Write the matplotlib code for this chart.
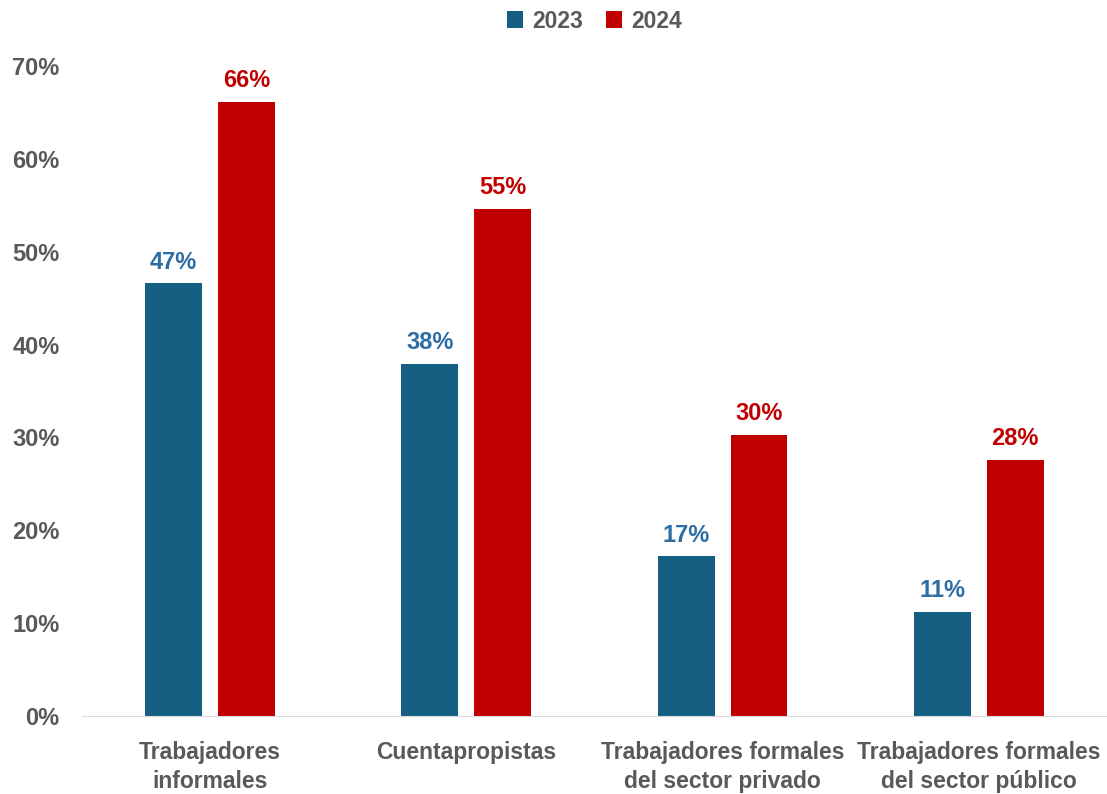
import matplotlib.pyplot as plt
import numpy as np

# Datos
categorias = ['Trabajadores\ninformales', 'Cuentapropistas',
              'Trabajadores formales\ndel sector privado', 'Trabajadores formales\ndel sector público']
valores_2023 = [46.6, 37.9, 17.2, 11.2]
valores_2024 = [66.1, 54.6, 30.3, 27.6]
etiquetas_2023 = ['47%', '38%', '17%', '11%']
etiquetas_2024 = ['66%', '55%', '30%', '28%']

azul = '#156082'
rojo = '#C00000'
gris = '#595959'

plt.rcParams['font.family'] = ['Liberation Sans', 'DejaVu Sans']
plt.rcParams['font.weight'] = 'bold'

fig = plt.figure(figsize=(11.07, 7.94), dpi=100)
ax = fig.add_axes([0.074, 0.098, 0.926, 0.819])

x = np.arange(len(categorias))
ancho = 0.222
desp = 0.142
b1 = ax.bar(x - desp, valores_2023, ancho, color=azul, label='2023')
b2 = ax.bar(x + desp, valores_2024, ancho, color=rojo, label='2024')

# Etiquetas de datos
for barras, etiquetas, color in [(b1, etiquetas_2023, '#2E6DA4'), (b2, etiquetas_2024, rojo)]:
    for b, t in zip(barras, etiquetas):
        ax.annotate(t, (b.get_x() + b.get_width() / 2, b.get_height()),
                    xytext=(0, 7), textcoords='offset points',
                    ha='center', va='bottom', color=color, fontsize=17, fontweight='bold')

ax.set_xlim(-0.5, len(categorias) - 0.5)
ax.set_ylim(0, 70)
ax.set_yticks(range(0, 71, 10))
ax.set_yticklabels([f'{v}%' for v in range(0, 71, 10)])
ax.set_xticks(x)
ax.set_xticklabels(categorias, linespacing=1.3)
ax.tick_params(axis='both', length=0, labelsize=16.5, colors=gris)
ax.tick_params(axis='x', pad=18)
ax.tick_params(axis='y', labelsize=17, pad=16)
for lbl in ax.get_xticklabels() + ax.get_yticklabels():
    lbl.set_fontweight('bold')

for s in ['top', 'right', 'left']:
    ax.spines[s].set_visible(False)
ax.spines['bottom'].set_color('#D9D9D9')

leg = ax.legend(loc='center', bbox_to_anchor=(0.5, 1.069), ncol=2, frameon=False,
                fontsize=16.5, handlelength=0.7, handleheight=0.7, columnspacing=1.0,
                handletextpad=0.4, borderpad=0)
for t in leg.get_texts():
    t.set_color(gris)
    t.set_fontweight('bold')

plt.savefig('out.png', dpi=100)
